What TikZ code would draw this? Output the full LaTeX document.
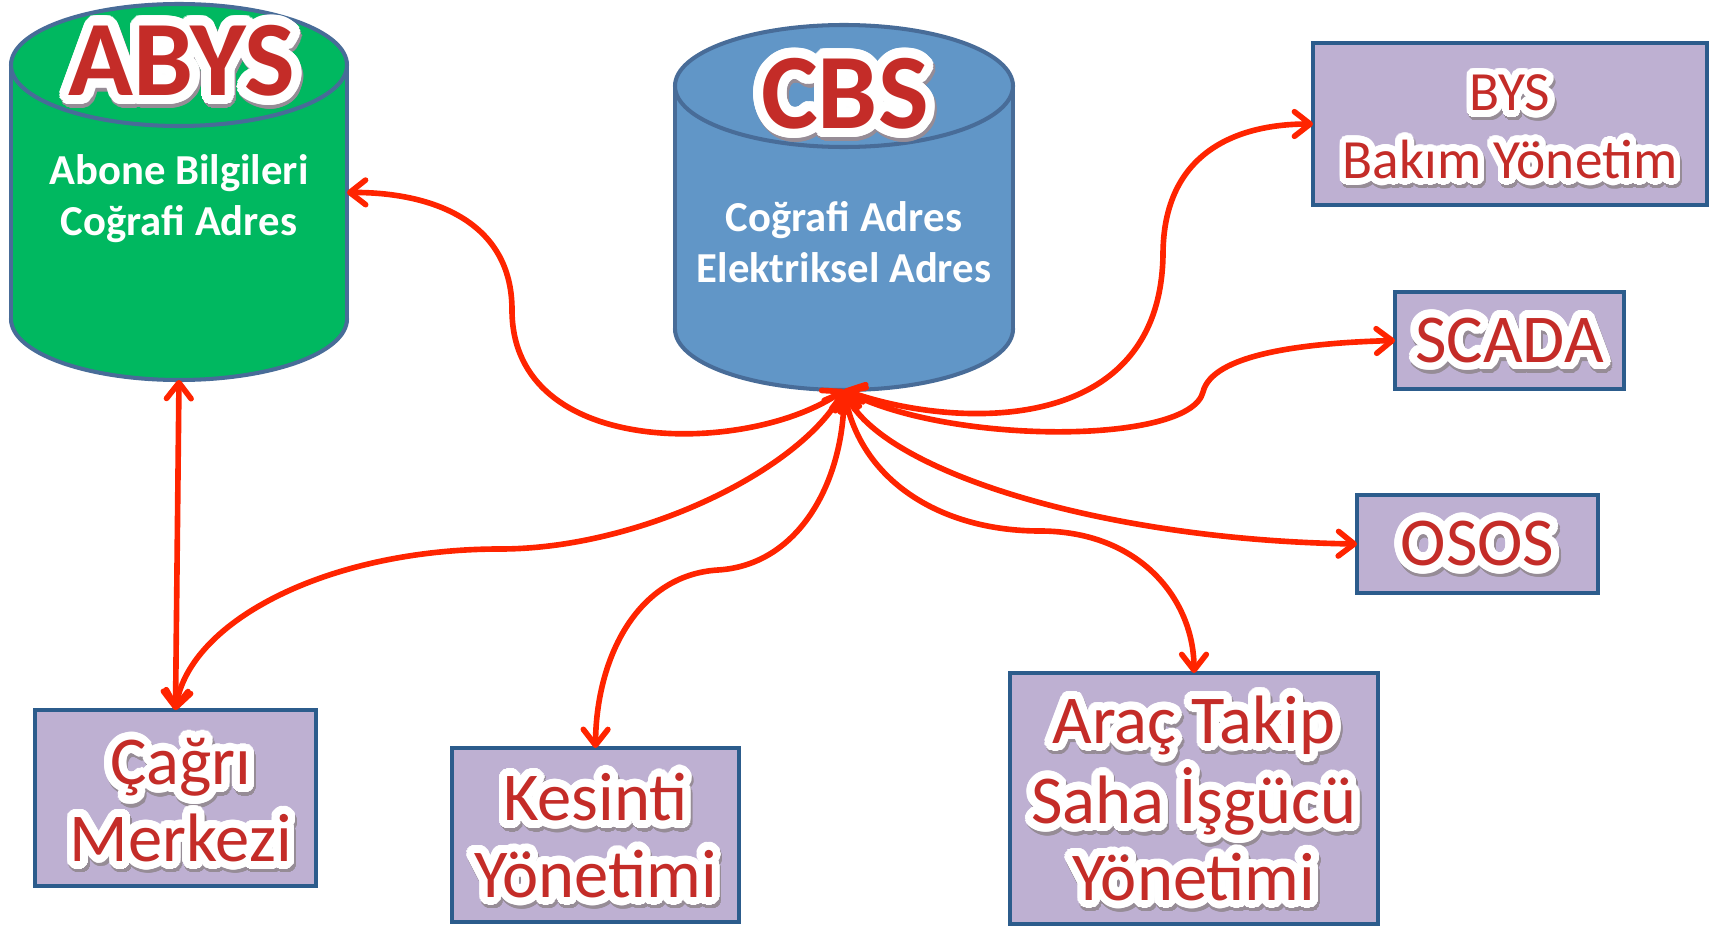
\documentclass[tikz,border=0pt]{standalone}
\usepackage{fontspec}
\setmainfont{Carlito}
\usepackage[copies]{contour}
\usetikzlibrary{arrows.meta}
\definecolor{abysgreen}{RGB}{0,184,96}
\definecolor{cbsblue}{RGB}{97,150,199}
\definecolor{cylborder}{RGB}{72,108,152}
\definecolor{boxfill}{RGB}{190,176,210}
\definecolor{boxborder}{RGB}{44,92,140}
\definecolor{txtred}{RGB}{196,44,40}
\definecolor{arrowred}{RGB}{255,36,0}
\definecolor{shadowgray}{RGB}{150,140,150}
\contournumber{40}
\newcommand\glowtext[2]{{\contourlength{#1}%
  \leavevmode\rlap{\raisebox{-2pt}{\hspace{1pt}\color{shadowgray}\contour{shadowgray}{#2}}}%
  {\color{txtred}\contour{white}{#2}}}}
\newcommand\lbl[1]{\glowtext{4.5pt}{#1}}
\newcommand\lblsmall[1]{\glowtext{3.8pt}{#1}}
\newcommand\lblbig[1]{\glowtext{5.5pt}{#1}}
\begin{document}
\begin{tikzpicture}[x=0.02cm, y=-0.02cm,
  area/.style={draw=none, inner sep=0pt, outer sep=0pt},
  sysbox/.style={draw=boxborder, fill=boxfill, line width=2.3pt, inner sep=0pt, outer sep=0pt},
  boxtxt/.style={align=center, inner sep=0pt, font=\fontsize{39}{43.5}\selectfont},
  cyl/.style={draw=cylborder, line width=2.3pt},
  whitelbl/.style={text=white, align=center, font=\fontsize{24.3}{29}\selectfont\bfseries},
  biglbl/.style={font=\fontsize{61}{64}\selectfont\bfseries},
  >={Straight Barb[length=9pt,width=14pt,round]},
  conn/.style={draw=arrowred, line width=3.2pt, <->}]
\useasboundingbox (0,0) rectangle (1725,926);

% ABYS cylinder
\filldraw[cyl, fill=abysgreen] (179,319) ellipse [x radius=168, y radius=61];
\fill[abysgreen] (11,65) rectangle (347,319);
\draw[cyl] (11,65) -- (11,319) (347,65) -- (347,319);
\filldraw[cyl, fill=abysgreen] (179,65) ellipse [x radius=168, y radius=61];
\node[area, minimum width=6.72cm, minimum height=7.5cm] (abys) at (179,192.5) {};
\node[biglbl] (abystitle) at (182,67) {\lblbig{ABYS}};
\node[whitelbl] (abystext) at (179,199) {Abone Bilgileri\\Coğrafi Adres};

% CBS cylinder
\filldraw[cyl, fill=cbsblue] (844,329) ellipse [x radius=169, y radius=61];
\fill[cbsblue] (675,86) rectangle (1013,329);
\draw[cyl] (675,86) -- (675,329) (1013,86) -- (1013,329);
\filldraw[cyl, fill=cbsblue] (844,86) ellipse [x radius=169, y radius=61];
\node[area, minimum width=6.76cm, minimum height=7.3cm] (cbs) at (844,207.5) {};
\node[biglbl] (cbstitle) at (845,100) {\lblbig{CBS}};
\node[whitelbl] (cbstext) at (844,242) {Coğrafi Adres\\Elektriksel Adres};

% boxes
\node[sysbox, minimum width=7.88cm, minimum height=3.24cm] (bys) at (1510,124) {};
\node[sysbox, minimum width=4.58cm, minimum height=1.94cm] (scada) at (1509.5,340.5) {};
\node[sysbox, minimum width=4.82cm, minimum height=1.96cm] (osos) at (1477.5,544) {};
\node[sysbox, minimum width=5.62cm, minimum height=3.52cm] (cagri) at (175.5,798) {};
\node[sysbox, minimum width=5.74cm, minimum height=3.48cm] (kesinti) at (595.5,835) {};
\node[sysbox, minimum width=7.36cm, minimum height=5.02cm] (arac) at (1194,798.5) {};

% box labels
\node[boxtxt, font=\fontsize{31.5}{38.5}\selectfont] (byslbl) at ([yshift=-4.5pt]bys.center)
  {\lblsmall{BYS}\\\lblsmall{Bakım Yönetim}};
\node[boxtxt] (scadalbl) at ([yshift=-3pt]scada.center) {\lbl{SCADA}};
\node[boxtxt] (ososlbl) at ([yshift=-3pt]osos.center) {\lbl{OSOS}};
\node[boxtxt] (cagrilbl) at ([xshift=3pt,yshift=-4.5pt]cagri.center) {\lbl{Çağrı}\\\lbl{Merkezi}};
\node[boxtxt] (kesintilbl) at ([yshift=-3.5pt]kesinti.center) {\lbl{Kesinti}\\\lbl{Yönetimi}};
\node[boxtxt] (araclbl) at ([yshift=-3pt]arac.center) {\lbl{Araç Takip}\\\lbl{Saha İşgücü}\\\lbl{Yönetimi}};

% waypoints
\coordinate (A1) at (512,310);
\coordinate (B1) at (1163,255);
\coordinate (C1) at (1203,392);
\coordinate (E1) at (1040,531);
\coordinate (F1) at (718,570);
\coordinate (G1) at (500,549);

% connectors
\draw[conn] (cbs.south) .. controls (750,455) and (512,460) .. (A1) .. controls (512,220) and (430,192) .. (abys.east);
\draw[conn] (cbs.south) .. controls (950,428) and (1160,440) .. (B1) .. controls (1163,150) and (1240,124) .. (bys.west);
\draw[conn] (cbs.south) .. controls (950,445) and (1190,445) .. (C1) .. controls (1212,355) and (1300,343) .. (scada.west);
\draw[conn] (cbs.south) .. controls (880,470) and (1100,540) .. (osos.west);
\draw[conn] (cbs.south) .. controls (860,480) and (940,531) .. (E1) .. controls (1140,531) and (1194,600) .. (arac.north);
\draw[conn] (cbs.south) .. controls (844,480) and (800,565) .. (F1) .. controls (636,575) and (596,660) .. (kesinti.north);
\draw[conn] (cbs.south) .. controls (800,470) and (640,549) .. (G1) .. controls (330,549) and (190,620) .. (cagri.north);
\draw[conn] (abys.south) -- (cagri.north);
\end{tikzpicture}
\end{document}
